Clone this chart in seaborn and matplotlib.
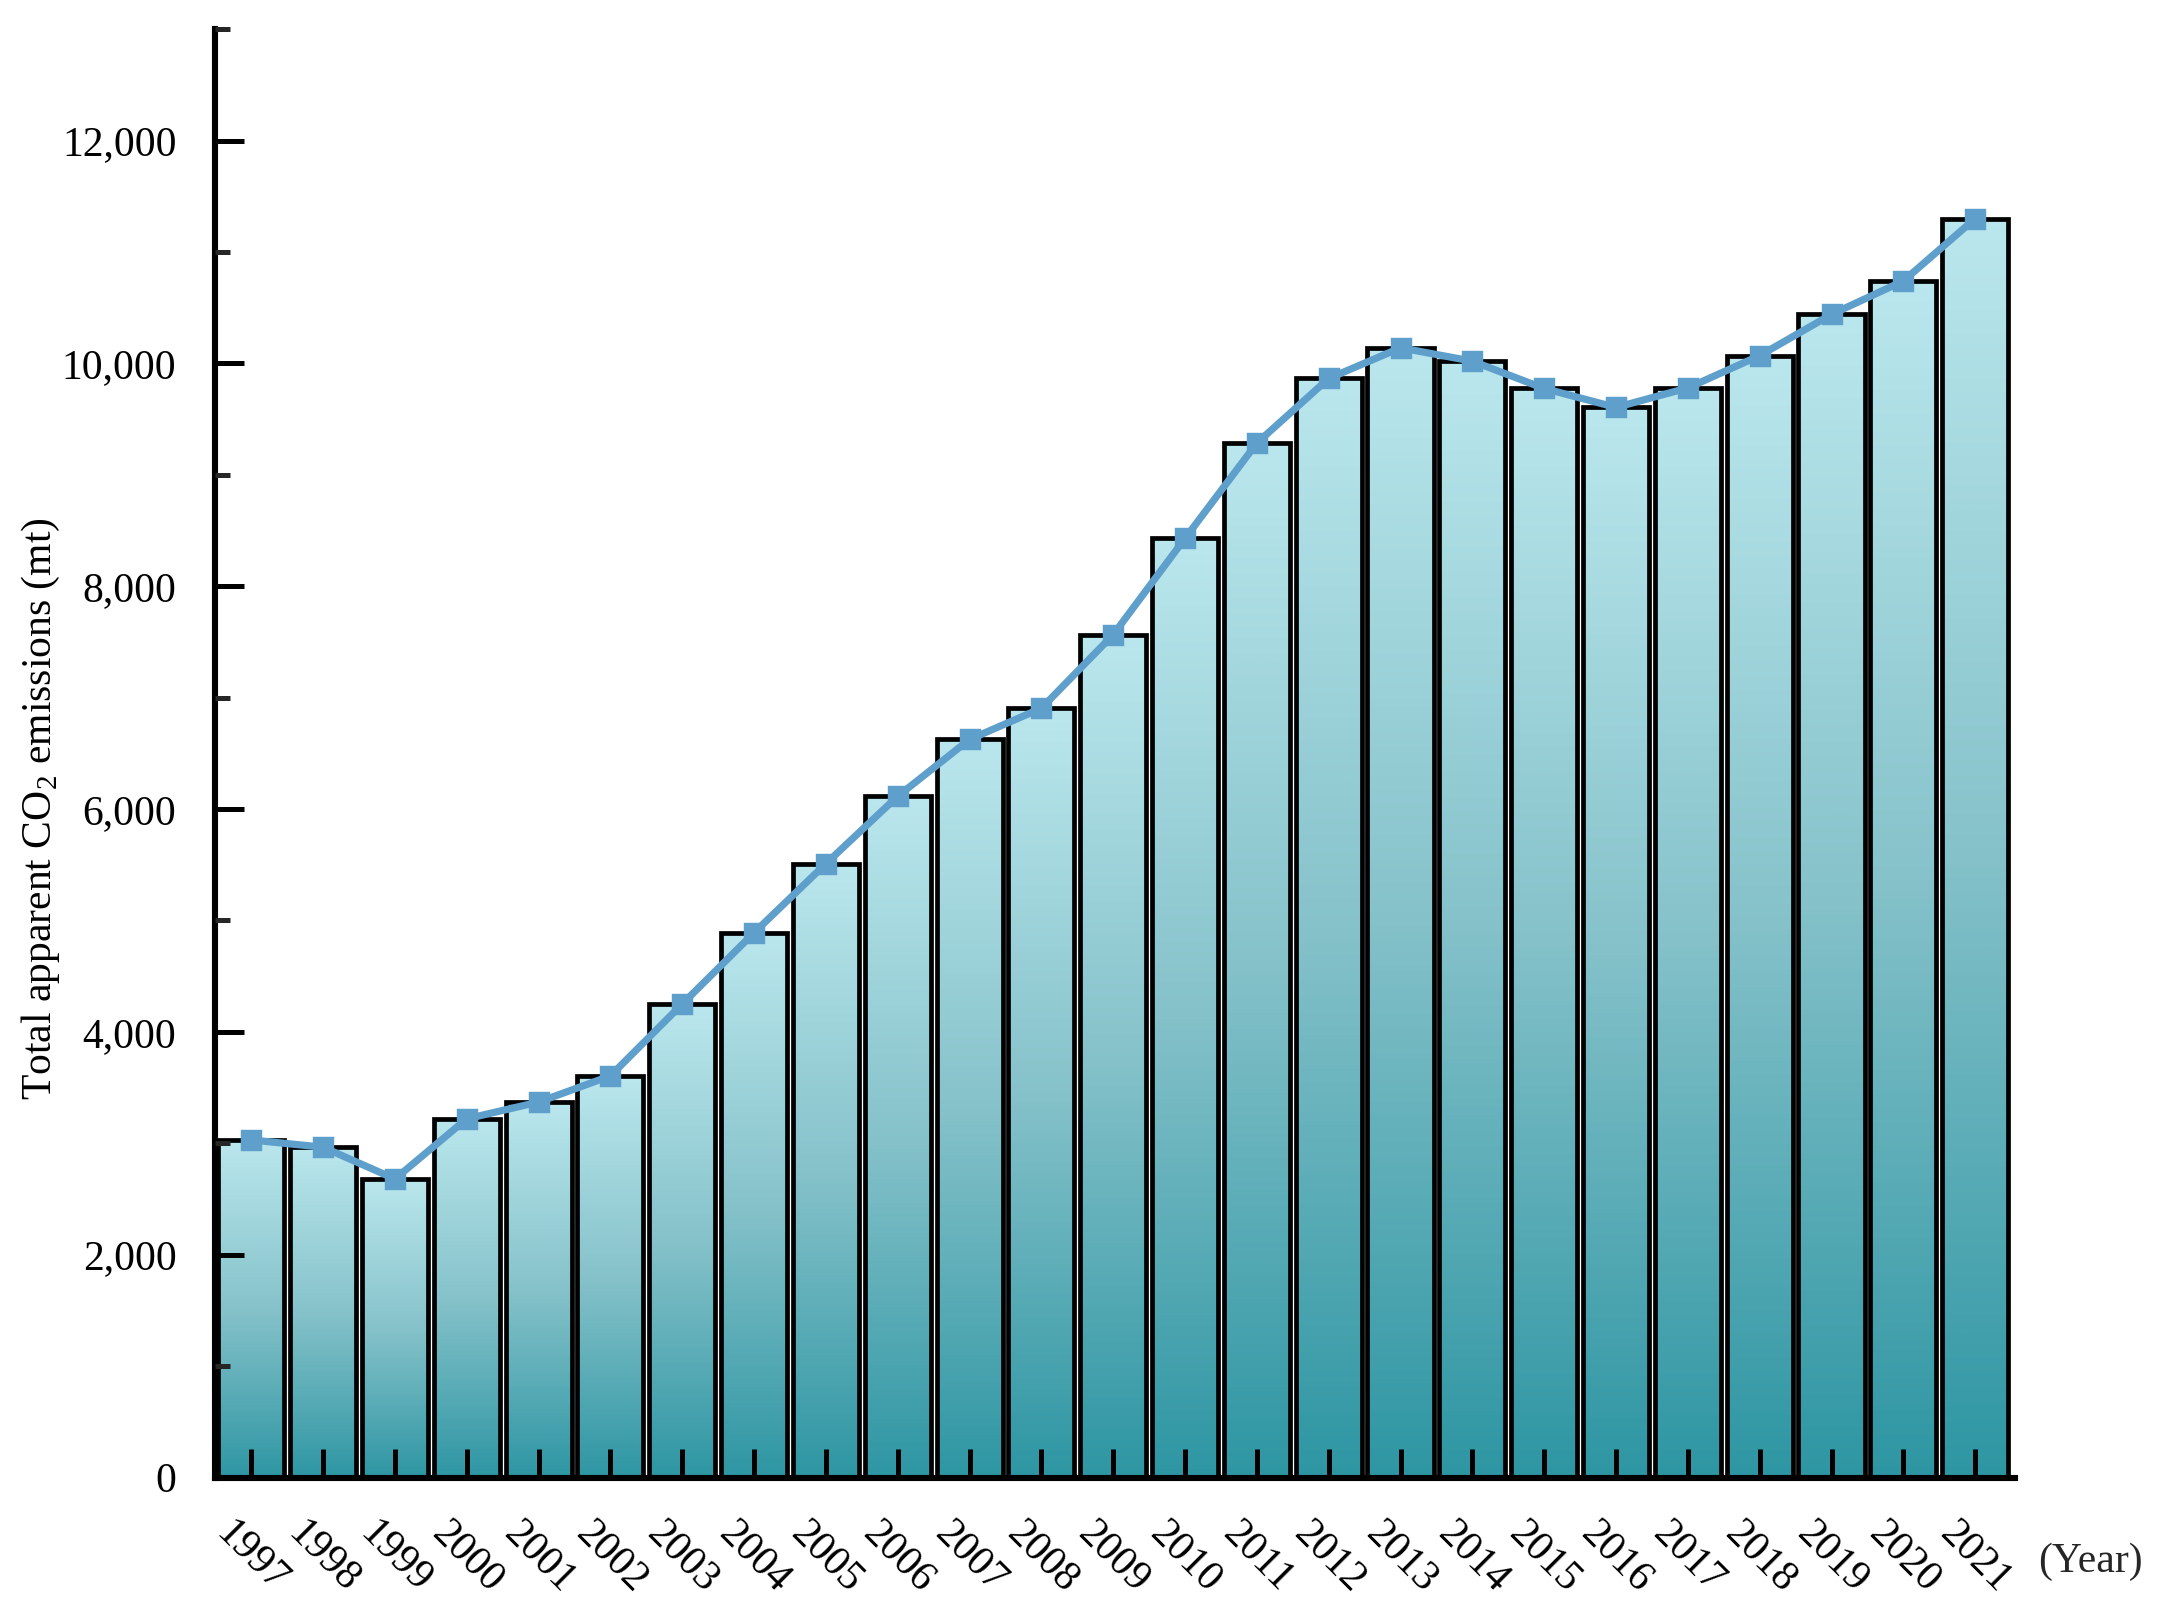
import numpy as np
import pandas as pd
import matplotlib
matplotlib.use('Agg')
import matplotlib.pyplot as plt
from matplotlib.colors import LinearSegmentedColormap
from matplotlib.ticker import MultipleLocator, FuncFormatter
import seaborn as sns

# Data
years = [str(y) for y in range(1997, 2022)]
emissions = [3030, 2965, 2680, 3220, 3370, 3605, 4250, 4890, 5510, 6115,
             6625, 6905, 7565, 8430, 9285, 9865, 10140, 10020, 9775, 9605,
             9780, 10070, 10440, 10740, 11300]

df = pd.DataFrame({'year': years, 'emissions': emissions})

sns.set_theme(style='ticks')
plt.rcParams['font.family'] = ['Liberation Serif', 'DejaVu Serif']
plt.rcParams['mathtext.fontset'] = 'custom'
plt.rcParams['mathtext.rm'] = 'Liberation Serif'

fig = plt.figure(figsize=(10.82, 8.105), dpi=200)
ax = fig.add_axes([0.0995, 0.0885, 0.8315, 0.8935])

# bars with black outline, gradient fill added below
sns.barplot(data=df, x='year', y='emissions', width=0.92, color='white',
            edgecolor='black', linewidth=1.7, ax=ax, zorder=3)

cmap = LinearSegmentedColormap.from_list('teal', ['#2e96a3', '#86c2ca', '#bae7ed'])
grad = np.linspace(0, 1, 256).reshape(-1, 1)
for bar in ax.patches:
    bar.set_facecolor('none')
    x0, y0 = bar.get_x(), bar.get_y()
    w, h = bar.get_width(), bar.get_height()
    im = ax.imshow(grad, cmap=cmap, origin='lower', aspect='auto',
                   extent=[x0, x0 + w, y0, y0 + h], zorder=2, interpolation='bilinear')
    im.set_clip_path(bar)

# trend line with square markers
sns.pointplot(data=df, x='year', y='emissions', color='#5f9fcc', markers='s',
              linestyles='-', linewidth=2.6, markersize=5.5, errorbar=None, ax=ax, zorder=5)

ax.set_xlim(-0.5, 24.55)
ax.set_ylim(0, 13000)
ax.yaxis.set_major_locator(MultipleLocator(2000))
ax.yaxis.set_minor_locator(MultipleLocator(1000))
ax.yaxis.set_major_formatter(FuncFormatter(lambda v, p: f'{int(v):,}'))

for s in ['top', 'right']:
    ax.spines[s].set_visible(False)
for s in ['left', 'bottom']:
    ax.spines[s].set_linewidth(2.2)
    ax.spines[s].set_color('black')
    ax.spines[s].set_zorder(6)

# ticks drawn on top of the bars
ax.xaxis.set_zorder(7)
ax.yaxis.set_zorder(7)

ax.tick_params(axis='y', which='major', direction='in', length=10.5, width=1.8,
               labelsize=15, pad=14, colors='black')
ax.tick_params(axis='y', which='minor', direction='in', length=5.5, width=1.8)
ax.tick_params(axis='x', which='major', direction='in', length=10.5, width=1.8,
               labelsize=15, pad=13, colors='black')
for lab in ax.get_xticklabels():
    lab.set_rotation(-45)
    lab.set_ha('center')
    lab.set_va('top')

ax.set_xlabel('')
ax.set_ylabel('Total apparent CO$_2$ emissions (mt)', fontsize=15, color='black')
ax.yaxis.set_label_coords(-0.085, 0.462)
ax.text(1.013, -0.058, '(Year)', transform=ax.transAxes, fontsize=15,
        ha='left', va='center')

fig.savefig('out.png', dpi=200)
